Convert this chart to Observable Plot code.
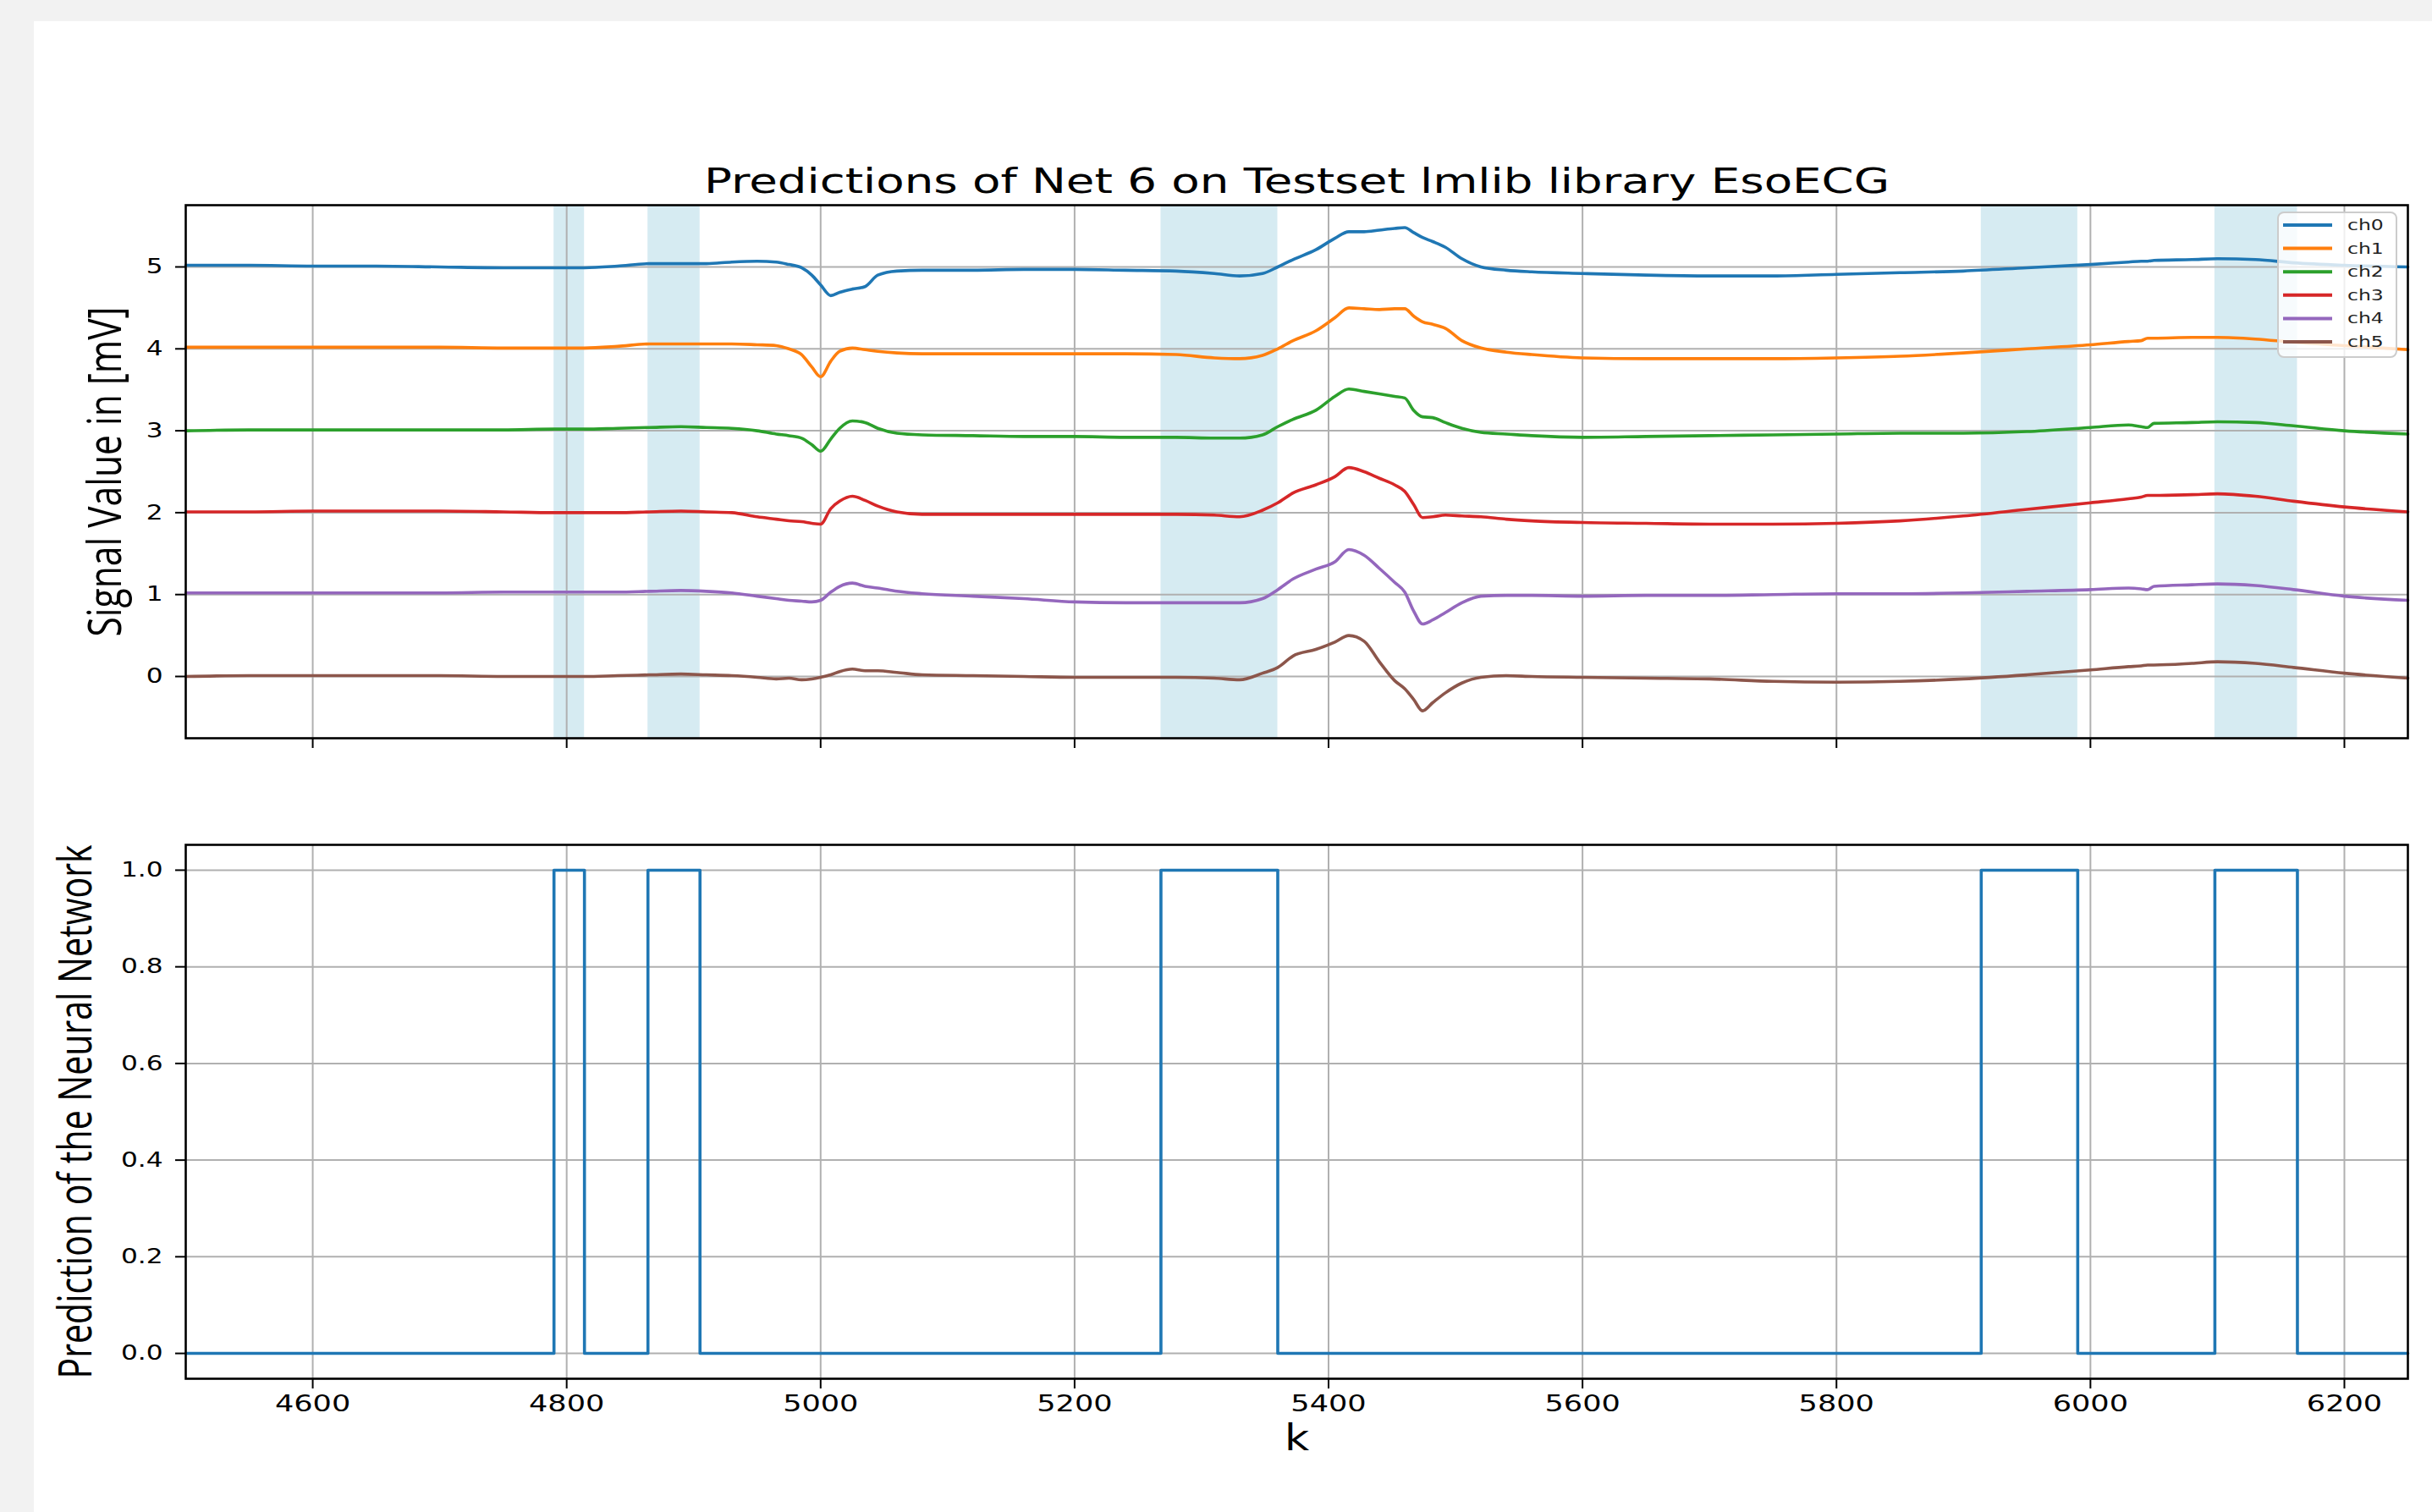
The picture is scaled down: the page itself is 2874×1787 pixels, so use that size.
<!DOCTYPE html>
<html><head><meta charset="utf-8">
<script src="https://cdn.jsdelivr.net/npm/d3@7"></script>
<script src="https://cdn.jsdelivr.net/npm/@observablehq/plot@0.6"></script>
<style>
html,body{margin:0;padding:0;background:#f2f2f2;}
body{width:2874px;height:1787px;position:relative;overflow:hidden;font-family:"DejaVu Sans",sans-serif;}
#card{position:absolute;left:40px;top:25px;width:2834px;height:1762px;background:#fff;}
.abs{position:absolute;left:0;width:2874px;}
.abs svg{max-width:none;}
#legend{position:absolute;left:0;top:0;}
</style></head><body>
<div id="card"></div>
<div id="p1" class="abs" style="top:160px"></div>
<div id="p2" class="abs" style="top:960px"></div>
<svg id="legend" width="2874" height="1787"></svg>
<script>
// ---- data ----
const K = [4500, 4550, 4600, 4650, 4700, 4750, 4790, 4814, 4840, 4865,
  4890, 4910, 4930, 4950, 4965, 4975, 4985, 4993, 5000, 5008,
  5015, 5025, 5035, 5045, 5060, 5080, 5120, 5160, 5200, 5240,
  5280, 5310, 5330, 5348, 5360, 5372, 5390, 5405, 5416, 5428,
  5440, 5452, 5460, 5467, 5474, 5482, 5492, 5505, 5520, 5540,
  5560, 5600, 5650, 5700, 5750, 5800, 5850, 5900, 5950, 6000,
  6030, 6040, 6045, 6050, 6080, 6100, 6130, 6160, 6200, 6250];
const ch0 = [5.02, 5.02, 5.01, 5.01, 5.00, 4.99, 4.99, 4.99, 5.01, 5.04,
  5.04, 5.04, 5.06, 5.07, 5.06, 5.03, 4.99, 4.90, 4.78, 4.65,
  4.69, 4.73, 4.76, 4.90, 4.95, 4.96, 4.96, 4.97, 4.97, 4.96,
  4.95, 4.92, 4.89, 4.92, 5.00, 5.09, 5.21, 5.35, 5.43, 5.43,
  5.45, 5.47, 5.48, 5.42, 5.36, 5.31, 5.24, 5.10, 5.00, 4.96,
  4.94, 4.92, 4.90, 4.89, 4.89, 4.91, 4.93, 4.95, 4.99, 5.03,
  5.06, 5.07, 5.07, 5.08, 5.09, 5.10, 5.09, 5.05, 5.02, 5.00];
const ch1 = [4.02, 4.02, 4.02, 4.02, 4.02, 4.01, 4.01, 4.01, 4.03, 4.06,
  4.06, 4.06, 4.06, 4.05, 4.04, 4.00, 3.93, 3.78, 3.66, 3.85,
  3.97, 4.01, 3.99, 3.97, 3.95, 3.94, 3.94, 3.94, 3.94, 3.94,
  3.93, 3.89, 3.88, 3.92, 4.00, 4.10, 4.22, 4.38, 4.50, 4.49,
  4.48, 4.49, 4.49, 4.40, 4.33, 4.30, 4.25, 4.10, 4.01, 3.96,
  3.93, 3.89, 3.88, 3.88, 3.88, 3.89, 3.91, 3.95, 4.00, 4.05,
  4.09, 4.10, 4.13, 4.13, 4.14, 4.14, 4.12, 4.08, 4.04, 3.99];
const ch2 = [3.00, 3.01, 3.01, 3.01, 3.01, 3.01, 3.02, 3.02, 3.03, 3.04,
  3.05, 3.04, 3.03, 3.00, 2.96, 2.94, 2.91, 2.83, 2.75, 2.90,
  3.03, 3.12, 3.10, 3.03, 2.97, 2.95, 2.94, 2.93, 2.93, 2.92,
  2.92, 2.91, 2.91, 2.95, 3.05, 3.14, 3.25, 3.42, 3.51, 3.48,
  3.45, 3.42, 3.40, 3.25, 3.17, 3.16, 3.10, 3.03, 2.98, 2.96,
  2.94, 2.92, 2.93, 2.94, 2.95, 2.96, 2.97, 2.97, 2.99, 3.04,
  3.07, 3.05, 3.04, 3.09, 3.10, 3.11, 3.10, 3.06, 3.00, 2.96];
const ch3 = [2.01, 2.01, 2.02, 2.02, 2.02, 2.01, 2.00, 2.00, 2.00, 2.01,
  2.02, 2.01, 2.00, 1.95, 1.92, 1.90, 1.89, 1.87, 1.86, 2.05,
  2.14, 2.20, 2.15, 2.08, 2.01, 1.98, 1.98, 1.98, 1.98, 1.98,
  1.98, 1.97, 1.95, 2.03, 2.12, 2.24, 2.34, 2.44, 2.55, 2.50,
  2.42, 2.34, 2.26, 2.10, 1.94, 1.95, 1.97, 1.96, 1.95, 1.92,
  1.90, 1.88, 1.87, 1.86, 1.86, 1.87, 1.90, 1.96, 2.04, 2.12,
  2.17, 2.19, 2.21, 2.21, 2.22, 2.23, 2.20, 2.14, 2.07, 2.01];
const ch4 = [1.02, 1.02, 1.02, 1.02, 1.02, 1.03, 1.03, 1.03, 1.03, 1.04,
  1.05, 1.04, 1.02, 0.98, 0.95, 0.93, 0.92, 0.91, 0.93, 1.03,
  1.10, 1.14, 1.10, 1.08, 1.04, 1.01, 0.98, 0.95, 0.91, 0.90,
  0.90, 0.90, 0.90, 0.95, 1.06, 1.19, 1.31, 1.40, 1.55, 1.48,
  1.32, 1.15, 1.03, 0.80, 0.64, 0.69, 0.78, 0.90, 0.98, 0.99,
  0.99, 0.98, 0.99, 0.99, 1.00, 1.01, 1.01, 1.02, 1.04, 1.06,
  1.08, 1.07, 1.06, 1.10, 1.12, 1.13, 1.11, 1.06, 0.98, 0.93];
const ch5 = [0.00, 0.01, 0.01, 0.01, 0.01, 0.00, 0.00, 0.00, 0.01, 0.02,
  0.03, 0.02, 0.01, -0.01, -0.03, -0.02, -0.04, -0.03, -0.01, 0.02,
  0.06, 0.09, 0.07, 0.07, 0.05, 0.02, 0.01, 0.00, -0.01, -0.01,
  -0.01, -0.02, -0.04, 0.04, 0.11, 0.25, 0.33, 0.42, 0.50, 0.43,
  0.18, -0.05, -0.15, -0.28, -0.42, -0.32, -0.20, -0.08, -0.01, 0.01,
  0.00, -0.01, -0.02, -0.03, -0.06, -0.07, -0.06, -0.03, 0.02, 0.08,
  0.12, 0.13, 0.14, 0.14, 0.16, 0.18, 0.16, 0.11, 0.04, -0.02];
const channels = ["ch0", "ch1", "ch2", "ch3", "ch4", "ch5"];
const colors = ["#1f77b4", "#ff7f0e", "#2ca02c", "#d62728", "#9467bd", "#8c564b"];
const pulseStart = [4790, 4864, 5268, 5914, 6098];
const pulseEnd = [4814, 4905, 5360, 5990, 6163];
const predK = [4500, 4790, 4814, 4864, 4905, 5268, 5360, 5914, 5990, 6098, 6163, 6250];
const predV = [0, 1, 0, 1, 0, 1, 0, 1, 0, 1, 0, 0];
const xTicks = [4600, 4800, 5000, 5200, 5400, 5600, 5800, 6000, 6200];
const yTicksTop = [0, 1, 2, 3, 4, 5];
const yTicksBottom = [0, 0.2, 0.4, 0.6, 0.8, 1.0];
const titleText = "Predictions of Net 6 on Testset lmlib library EsoECG";
const yLabelTop = "Signal Value in [mV]";
const yLabelBottom = "Prediction of the Neural Network";
const xLabel = "k";

// ---- tables ----
const series = [ch0, ch1, ch2, ch3, ch4, ch5];
const signals = channels.flatMap((name, c) => K.map((k, i) => ({k, v: series[c][i], ch: name})));
const bands = pulseStart.map((s, i) => ({start: s, end: pulseEnd[i]}));
const pred = predK.map((k, i) => ({k, v: predV[i]}));

const GRID = "#b0b0b0";
const common = {
  width: 2874,
  marginLeft: 219, marginRight: 29,
  style: {fontFamily: "DejaVu Sans", color: "black", background: "transparent", overflow: "visible"}
};

const p1 = Plot.plot({
  ...common,
  height: 740, marginTop: 82, marginBottom: 28,
  x: {domain: [4500, 6250]},
  y: {domain: [-0.754, 5.754]},
  color: {domain: channels, range: colors},
  marks: [
    Plot.rect(bands, {x1: "start", x2: "end", fill: "#add8e6", fillOpacity: 0.5}),
    Plot.gridX({ticks: xTicks, stroke: GRID, strokeOpacity: 1, strokeWidth: 2}),
    Plot.gridY({ticks: yTicksTop, stroke: GRID, strokeOpacity: 1, strokeWidth: 2}),
    Plot.line(signals, {x: "k", y: "v", z: "ch", stroke: "ch", strokeWidth: 3.6, curve: "monotone-x"}),
    Plot.axisX({ticks: xTicks, tickSize: 12, tickFormat: () => "", strokeWidth: 2, label: null}),
    Plot.axisY({ticks: yTicksTop, tickSize: 12, tickPadding: 15, fontSize: 24, strokeWidth: 2, label: null, tickFormat: d => String(d)}),
    Plot.frame({stroke: "black", strokeWidth: 2.6}),
    Plot.text([titleText], {text: d => d, frameAnchor: "top", dy: -15, lineAnchor: "bottom", textAnchor: "middle", fontSize: 41, fill: "black"}),
    Plot.text([yLabelTop], {text: d => d, frameAnchor: "left", rotate: -90, dx: -77, lineAnchor: "bottom", textAnchor: "middle", fontSize: 55, fontFamily: "Open Sans", fill: "black"})
  ]
});
document.getElementById("p1").append(p1);

const p2 = Plot.plot({
  ...common,
  height: 760, marginTop: 38, marginBottom: 91,
  x: {domain: [4500, 6250]},
  y: {domain: [-0.0524, 1.0524]},
  marks: [
    Plot.gridX({ticks: xTicks, stroke: GRID, strokeOpacity: 1, strokeWidth: 2}),
    Plot.gridY({ticks: yTicksBottom, stroke: GRID, strokeOpacity: 1, strokeWidth: 2}),
    Plot.line(pred, {x: "k", y: "v", curve: "step-after", stroke: "#1f77b4", strokeWidth: 3.6}),
    Plot.axisX({ticks: xTicks, tickSize: 12, tickPadding: 7, fontSize: 27, strokeWidth: 2, label: null, tickFormat: d => String(d)}),
    Plot.axisY({ticks: yTicksBottom, tickSize: 12, tickPadding: 15, fontSize: 24, strokeWidth: 2, label: null, tickFormat: d => d.toFixed(1)}),
    Plot.frame({stroke: "black", strokeWidth: 2.6}),
    Plot.text([xLabel], {text: d => d, frameAnchor: "bottom", dy: 84, lineAnchor: "bottom", textAnchor: "middle", fontSize: 42, fill: "black"}),
    Plot.text([yLabelBottom], {text: d => d, frameAnchor: "left", rotate: -90, dx: -112, lineAnchor: "bottom", textAnchor: "middle", fontSize: 55, fontFamily: "Open Sans", fill: "black"})
  ]
});
document.getElementById("p2").append(p2);

// ---- legend ----
const lg = d3.select("#legend");
lg.append("rect").attr("x", 2692).attr("y", 251).attr("width", 140).attr("height", 171).attr("rx", 7)
  .attr("fill", "white").attr("fill-opacity", 0.8).attr("stroke", "#cccccc").attr("stroke-width", 2);
channels.forEach((c, i) => {
  const y = 266 + i * 27.6;
  lg.append("line").attr("x1", 2698).attr("x2", 2756).attr("y1", y).attr("y2", y)
    .attr("stroke", colors[i]).attr("stroke-width", 4);
  lg.append("text").attr("x", 2774).attr("y", y + 6).attr("font-size", 17)
    .attr("font-family", "DejaVu Sans").attr("fill", "#222").attr("class", "lgt").text(c);
});

// ---- text stretching to match the (horizontally stretched) reference ----
function stretch(nodes, f) {
  nodes.forEach(t => {
    if (!t) return;
    const L = t.getComputedTextLength();
    if (L > 0) { t.setAttribute("textLength", (L * f).toFixed(2)); t.setAttribute("lengthAdjust", "spacingAndGlyphs"); }
  });
}
function setLen(nodes, L) {
  nodes.forEach(t => { if (!t) return; t.setAttribute("textLength", L); t.setAttribute("lengthAdjust", "spacingAndGlyphs"); });
}
const q = s => Array.from(document.querySelectorAll(s));
const byText = s => q("svg text").filter(t => t.textContent === s);
stretch(q('g[aria-label="x-axis tick label"] text'), 1.3);
stretch(q('g[aria-label="y-axis tick label"] text'), 1.3);
stretch(byText(xLabel), 1.2);
stretch(q('.lgt'), 1.38);
setLen(byText(titleText), 1401);
setLen(byText(yLabelTop), 390);
setLen(byText(yLabelBottom), 631);
</script>
</body></html>
